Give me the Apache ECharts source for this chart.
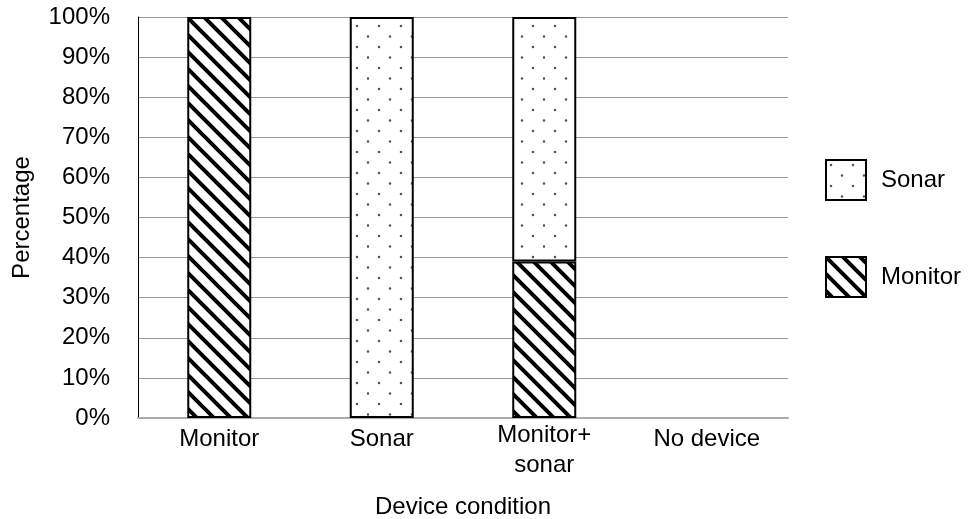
<!DOCTYPE html>
<html>
<head>
<meta charset="utf-8">
<script src="https://cdn.jsdelivr.net/npm/echarts@6/dist/echarts.min.js"></script>
<style>
  html, body { margin: 0; padding: 0; background: #fff; }
  #chart { width: 973px; height: 519px; }
</style>
</head>
<body>
<div id="chart"></div>
<script>
var categories = ['Monitor', 'Sonar', 'Monitor+\nsonar', 'No device'];
var monitorValues = [100, null, 39, null];
var sonarValues = [null, 100, 61, null];
var yTicks = [0, 10, 20, 30, 40, 50, 60, 70, 80, 90, 100];

// diagonal stripes "\\"
function stripePattern() {
    var p = 17;
    var c = document.createElement('canvas');
    c.width = p; c.height = p;
    var ctx = c.getContext('2d');
    ctx.fillStyle = '#fff';
    ctx.fillRect(0, 0, p, p);
    ctx.strokeStyle = '#000';
    ctx.lineWidth = 4;
    ctx.beginPath();
    for (var k = -1; k <= 1; k++) {
        ctx.moveTo(k * p - 2, -2);
        ctx.lineTo(k * p + p + 2, p + 2);
    }
    ctx.stroke();
    return c;
}

// sparse dots
function dotPattern() {
    var w = 22, h = 21;
    var c = document.createElement('canvas');
    c.width = w; c.height = h;
    var ctx = c.getContext('2d');
    ctx.fillStyle = '#fff';
    ctx.fillRect(0, 0, w, h);
    ctx.fillStyle = '#555';
    ctx.beginPath();
    ctx.arc(5, 5, 1.3, 0, Math.PI * 2);
    ctx.arc(16, 15.5, 1.3, 0, Math.PI * 2);
    ctx.fill();
    return c;
}

var chart = echarts.init(document.getElementById('chart'));
var option = {
    animation: false,
    backgroundColor: '#fff',
    textStyle: { fontFamily: 'Liberation Sans, Arial, sans-serif', color: '#000' },
    grid: { left: 138, right: 185, top: 17, bottom: 101, outerBoundsMode: 'none', containLabel: false },
    legend: {
        data: ['Sonar', 'Monitor'],
        orient: 'vertical',
        left: 820,
        top: 154,
        itemWidth: 40,
        itemHeight: 40,
        itemGap: 55,
        icon: 'rect',
        textStyle: { fontSize: 24, color: '#000', padding: [0, 0, 0, 10] }
    },
    xAxis: {
        type: 'category',
        data: categories,
        name: 'Device condition',
        nameLocation: 'middle',
        nameGap: 77,
        nameTextStyle: { fontSize: 24, color: '#000' },
        axisLine: { lineStyle: { color: '#aaa', width: 2 } },
        axisTick: { show: false },
        axisLabel: {
            interval: 0,
            hideOverlap: false,
            fontSize: 24, color: '#000', lineHeight: 30, margin: 2,
            formatter: function (v) {
                return v.indexOf('\n') >= 0 ? v : '{s|' + v + '}';
            },
            rich: { s: { fontSize: 24, lineHeight: 38 } }
        }
    },
    yAxis: {
        type: 'value',
        min: 0,
        max: 100,
        interval: 10,
        name: 'Percentage',
        nameLocation: 'middle',
        nameGap: 104,
        nameTextStyle: { fontSize: 24, color: '#000' },
        axisLine: { show: true, lineStyle: { color: '#000', width: 1 } },
        axisTick: { show: false },
        axisLabel: {
            fontSize: 24, color: '#000', margin: 28,
            formatter: function (v) { return yTicks.indexOf(v) >= 0 ? v + '%' : ''; }
        },
        splitLine: { lineStyle: { color: '#999', width: 1 } }
    },
    series: [
        {
            name: 'Monitor',
            type: 'bar',
            stack: 'all',
            data: monitorValues,
            barWidth: 64,
            itemStyle: {
                color: { image: stripePattern(), repeat: 'repeat' },
                borderColor: '#000',
                borderWidth: 2
            }
        },
        {
            name: 'Sonar',
            type: 'bar',
            stack: 'all',
            data: sonarValues,
            barWidth: 64,
            itemStyle: {
                color: { image: dotPattern(), repeat: 'repeat' },
                borderColor: '#000',
                borderWidth: 2
            }
        }
    ]
};
chart.setOption(option);
</script>
</body>
</html>
